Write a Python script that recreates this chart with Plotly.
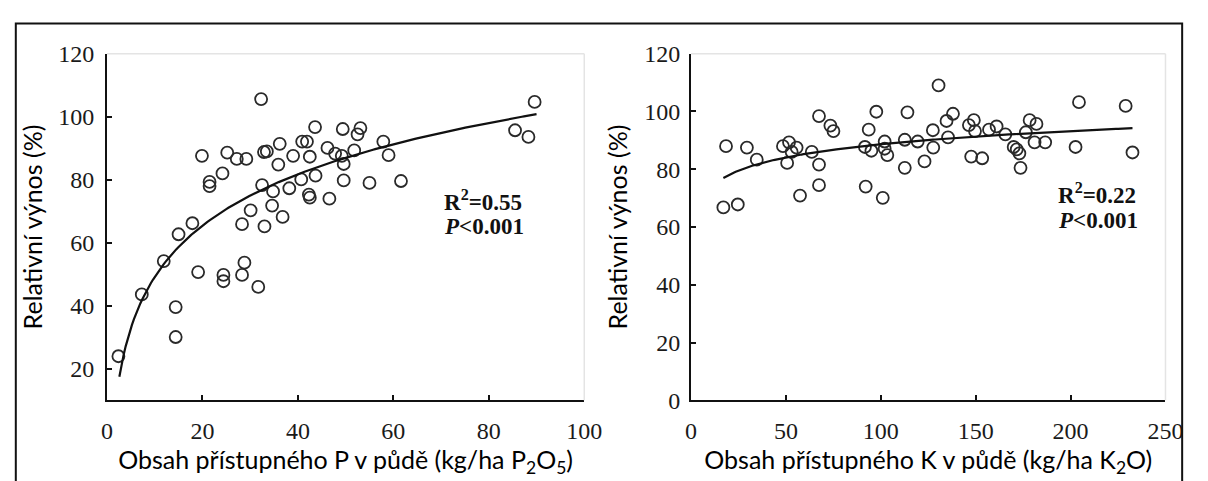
import numpy as np
import plotly.graph_objects as go

# ---- data: left panel (P) ----
p_x = [2.4, 7.3, 11.9, 14.4, 14.4, 15.0, 17.9, 19.1, 19.9, 21.5, 21.5, 24.2, 24.4, 24.4,
       25.2, 27.2, 29.2, 28.3, 28.8, 28.3, 30.1, 31.7, 32.3, 32.5, 32.9, 33.5, 33.0, 34.6,
       34.8, 35.9, 36.2, 36.8, 38.2, 39.0, 40.7, 40.9, 41.9, 42.3, 42.5, 42.5, 43.7, 43.6,
       46.2, 46.6, 47.8, 49.4, 49.2, 49.6, 49.6, 51.8, 52.5, 53.1, 55.0, 57.9, 59.0, 61.6,
       85.5, 88.3, 89.6]
p_y = [24.0, 43.6, 54.2, 39.6, 30.1, 62.7, 66.2, 50.7, 87.6, 79.3, 78.0, 82.0, 49.8, 47.8,
       88.6, 86.6, 86.6, 65.9, 53.7, 49.8, 70.3, 46.0, 105.6, 78.3, 88.8, 89.0, 65.2, 71.8,
       76.3, 84.8, 91.4, 68.2, 77.3, 87.6, 80.1, 92.1, 92.1, 75.3, 74.3, 87.3, 81.3, 96.7,
       90.1, 74.0, 88.3, 96.1, 87.6, 85.0, 79.8, 89.3, 94.4, 96.4, 79.0, 92.1, 87.8, 79.6,
       95.7, 93.6, 104.7]
p_fit_a, p_fit_b = -4.95, 23.5          # y = a + b*ln(x)
p_fit_range = [2.6, 90.0]

# ---- data: right panel (K) ----
k_x = [17.0, 18.4, 24.6, 29.4, 34.6, 48.4, 50.6, 51.6, 53.0, 55.6, 57.4, 63.6, 67.4, 67.4,
       67.4, 73.4, 75.0, 91.6, 93.6, 95.0, 92.0, 97.6, 102.0, 102.0, 103.4, 101.0, 112.6,
       112.6, 114.0, 119.4, 123.0, 127.4, 127.6, 130.4, 134.6, 135.4, 138.0, 146.4, 149.0,
       149.6, 147.6, 153.4, 157.0, 161.0, 165.6, 170.0, 171.6, 173.0, 173.6, 176.4, 178.4,
       182.0, 181.0, 186.6, 202.6, 204.4, 229.0, 232.6]
k_y = [66.8, 88.0, 67.8, 87.5, 83.3, 88.0, 82.2, 89.3, 86.0, 87.5, 70.9, 86.0, 98.4, 81.6,
       74.5, 95.1, 93.2, 87.7, 93.7, 86.4, 74.0, 99.9, 89.6, 87.1, 84.9, 70.1, 90.2, 80.5,
       99.7, 89.6, 82.7, 93.5, 87.5, 109.0, 96.7, 91.0, 99.2, 95.3, 97.0, 93.2, 84.4, 83.8,
       93.7, 94.8, 92.1, 87.7, 86.9, 85.5, 80.5, 92.8, 97.0, 95.7, 89.3, 89.3, 87.7, 103.2,
       101.9, 85.8]
k_fit_a, k_fit_b = 58.37, 6.575
k_fit_range = [17.0, 232.6]

left_yticks = [20, 40, 60, 80, 100, 120]
left_xticks = [0, 20, 40, 60, 80, 100]
right_yticks = [0, 20, 40, 60, 80, 100, 120]
right_xticks = [0, 50, 100, 150, 200, 250]

y_title = "Relativní výnos (%)"
p_title = "Obsah přístupného P v půdě (kg/ha P<sub>2</sub>O<sub>5</sub>)"
k_title = "Obsah přístupného K v půdě (kg/ha K<sub>2</sub>O)"
p_stats = ["<b>R<sup>2</sup>=0.55</b>", "<b><i>P</i>&lt;0.001</b>"]
k_stats = ["<b>R<sup>2</sup>=0.22</b>", "<b><i>P</i>&lt;0.001</b>"]

W, H = 1208, 481
fig = go.Figure()

marker = dict(symbol="circle-open", size=12, color="#2a2a2a", line=dict(width=1.8, color="#2a2a2a"))

fig.add_trace(go.Scatter(x=p_x, y=p_y, mode="markers", marker=marker, xaxis="x", yaxis="y", showlegend=False))
px_line = np.linspace(p_fit_range[0], p_fit_range[1], 200)
fig.add_trace(go.Scatter(x=px_line, y=p_fit_a + p_fit_b * np.log(px_line), mode="lines",
                         line=dict(color="#111111", width=2.2), xaxis="x", yaxis="y", showlegend=False))

fig.add_trace(go.Scatter(x=k_x, y=k_y, mode="markers", marker=marker, xaxis="x2", yaxis="y2", showlegend=False))
kx_line = np.linspace(k_fit_range[0], k_fit_range[1], 200)
fig.add_trace(go.Scatter(x=kx_line, y=k_fit_a + k_fit_b * np.log(kx_line), mode="lines",
                         line=dict(color="#111111", width=2.2), xaxis="x2", yaxis="y2", showlegend=False))

tickfont = dict(family="Liberation Serif", size=24, color="#1a1a1a")
titlefont = dict(family="Lato", size=25, color="#000000")

axis_common = dict(showgrid=False, zeroline=False, showline=True, linecolor="#111111", linewidth=2,
                   ticks="inside", ticklen=5, tickwidth=1.5, tickcolor="#111111", tickfont=tickfont)

ytop = 1 - 43 / H
ybot = 1 - 409.5 / H

fig.update_layout(
    width=W, height=H,
    margin=dict(l=0, r=0, t=0, b=0),
    paper_bgcolor="white", plot_bgcolor="white",
    xaxis=dict(domain=[103 / W, 590 / W], range=[0, 100], tickvals=left_xticks, anchor="y",
               title=dict(text=p_title, font=titlefont, standoff=6), ticklabelstandoff=8, **axis_common),
    yaxis=dict(domain=[ybot, ytop], range=[10, 120], tickvals=left_yticks, anchor="x",
               title=dict(text=y_title, font=titlefont, standoff=8), ticklabelstandoff=6, **axis_common),
    xaxis2=dict(domain=[699 / W, 1183 / W], range=[0, 250], tickvals=right_xticks, anchor="y2",
                title=dict(text=k_title, font=titlefont, standoff=6), ticklabelstandoff=8, **axis_common),
    yaxis2=dict(domain=[ybot, ytop], range=[0, 120], tickvals=right_yticks, anchor="x2",
                title=dict(text=y_title, font=titlefont, standoff=10), ticklabelstandoff=4, **axis_common),
)

statfont = dict(family="Liberation Serif", size=23, color="#111111")
for ref, xs, ys, texts in [("", 70.2, [73.4, 65.3], p_stats), ("2", 192.5, [71.5, 62.3], k_stats)]:
    for yy, t in zip(ys, texts):
        fig.add_annotation(x=xs, y=yy, xref="x" + ref, yref="y" + ref, text=t, showarrow=False,
                           xanchor="left", yanchor="middle", font=statfont)

# faint frame of the plot areas (top & right)
for ref in ["", "2"]:
    fig.add_shape(type="line", xref=f"x{ref} domain", yref=f"y{ref} domain", x0=0, x1=1, y0=1, y1=1,
                  line=dict(color="#e4e4e4", width=1.5))
    fig.add_shape(type="line", xref=f"x{ref} domain", yref=f"y{ref} domain", x0=1, x1=1, y0=0, y1=1,
                  line=dict(color="#e4e4e4", width=1.5))

# outer figure frame
fig.add_shape(type="rect", xref="paper", yref="paper", x0=10 / W, x1=1200 / W, y0=-0.05, y1=1 - 11 / H,
              line=dict(color="#111111", width=2))

fig.write_html("out.html")
